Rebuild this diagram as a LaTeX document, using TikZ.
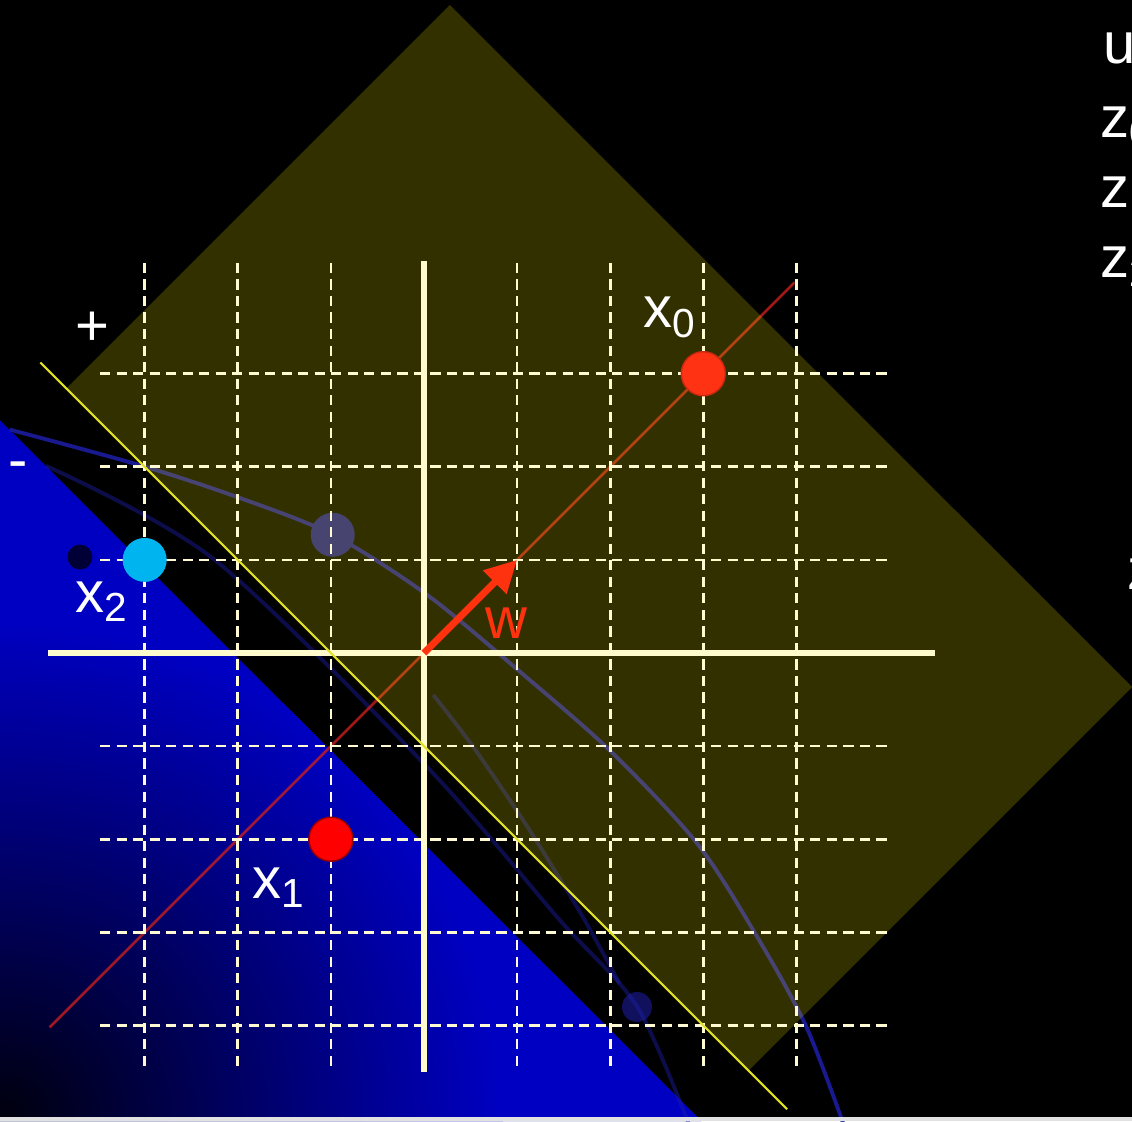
\documentclass[tikz,border=0pt]{standalone}
\usepackage{fontspec}
\setmainfont{Liberation Sans}
\usetikzlibrary{arrows.meta}

\definecolor{gridcol}{RGB}{255,250,210}
\definecolor{axiscol}{RGB}{255,251,205}
\definecolor{bdcol}{RGB}{225,225,40}
\definecolor{wcol}{RGB}{255,50,15}
\definecolor{trailcol}{RGB}{30,30,170}
\definecolor{ghostcol}{RGB}{25,25,140}
\definecolor{halfblue}{RGB}{0,0,195}
\definecolor{deepblue}{RGB}{0,0,12}
\definecolor{shadowcol}{RGB}{0,0,55}
\definecolor{wlinecol}{RGB}{200,30,30}
\definecolor{xzerocol}{RGB}{255,50,20}
\definecolor{xtwocol}{RGB}{0,180,240}
\definecolor{stripcol}{RGB}{225,225,225}

\begin{document}
\begin{tikzpicture}[x=0.931cm, y=0.931cm,
    gridline/.style={gridcol, line width=0.75pt, dash pattern=on 2.9pt off 1.8pt},
    axisline/.style={axiscol, line width=1.7pt},
    trail/.style={trailcol, line width=1.1pt},
    ptdot/.style={circle, inner sep=0pt, minimum size=0.44cm},
    lbl/.style={text=white, inner sep=0pt, anchor=base west,
                font=\fontsize{16.5}{19}\selectfont},
    warrow/.style={-{Triangle[length=9pt, width=9pt]}, wcol, line width=2pt},
]

\useasboundingbox (-4.554,-5.027) rectangle (7.605,7.014);
\fill[black] (-4.554,-5.027) rectangle (7.605,7.014);
\clip (-4.554,-5.027) rectangle (7.605,7.014);

% negative half plane
\coordinate (bl) at (-4.554,-5.027);
\coordinate (bt) at (-4.554,2.50);
\coordinate (br) at (2.98,-5.027);
\fill[halfblue] (bt) -- (br) -- (bl) -- cycle;
\begin{scope}
  \clip (bt) -- (br) -- (bl) -- cycle;
  \shade[inner color=deepblue, outer color=halfblue] (bl) circle (5.4);
\end{scope}

% trails
\draw[trail, opacity=0.85] plot[smooth] coordinates {(-4.45,2.40) (-3.06,2.02)
    (-2.02,1.68) (-0.98,1.27) (0.04,0.62) (1.03,-0.2) (2.0,-1.05) (2.93,-2.04)
    (3.55,-3.0) (4.1,-4.0) (4.52,-5.1)};
\draw[trail, opacity=0.45] plot[smooth] coordinates {(0.1,-0.45) (0.53,-1.01)
    (1.1,-1.85) (1.68,-2.79) (2.1,-3.55)};
\draw[trail, opacity=0.45] plot[smooth] coordinates {(-4.06,2.01) (-2.26,1.01)
    (0.03,-1.22) (1.46,-2.87) (2.29,-3.80) (2.86,-5.1)};
\node[ptdot, fill=ghostcol] (ghost) at (-0.98,1.27) {};
\node[ptdot, fill=shadowcol, minimum size=0.25cm] (shadow) at (-3.695,1.031) {};
\node[ptdot, fill=trailcol, opacity=0.55, minimum size=0.3cm] (ghostlow) at (2.288,-3.802) {};

% direction of w
\coordinate (rlo) at (-4.02,-4.02);
\coordinate (rhi) at (3.98,3.98);
\draw[wlinecol, opacity=0.8, line width=0.8pt] (rlo) -- (rhi);

% positive half plane
\fill[yellow, fill opacity=0.2] (0.279,6.96) -- (7.605,-0.365) -- (3.48,-4.49)
    -- (-3.845,2.836) -- cycle;

\foreach \u in {-3,-2,-1,1,2,3,4}
    \draw[gridline] (\u,4.19) -- (\u,-4.46);
\foreach \v in {-4,-3,-2,-1,1,2,3}
    \draw[gridline] (-3.48,\v) -- (4.98,\v);

\draw[axisline] (-4.04,0) -- (5.49,0);
\draw[axisline] (0,4.21) -- (0,-4.5);

\coordinate (yl) at (-4.12,3.12);
\coordinate (yu) at (3.9,-4.9);
\draw[bdcol, line width=0.6pt] (yl) -- (yu);

\coordinate (o) at (0,0);
\coordinate (wtip) at (1,1);
\draw[warrow] (o) -- (wtip);

\node[ptdot, fill=xzerocol, draw=xzerocol!80!black, line width=0.4pt] (x0) at (3,3) {};
\node[ptdot, fill=red, draw=red!60!black, line width=0.4pt] (x1) at (-1,-2) {};
\node[ptdot, fill=xtwocol] (x2) at (-3,1) {};

\node[lbl] (x0lbl) at (2.352,3.491) {x\textsubscript{0}};
\node[lbl] (x1lbl) at (-1.847,-2.632) {x\textsubscript{1}};
\node[lbl] (x2lbl) at (-3.749,0.440) {x\textsubscript{2}};
\node[lbl, text=wcol] (wlbl) at (0.655,0.161) {w};
\node[lbl, anchor=center] (plus) at (-3.566,3.480) {+};
\node[lbl, anchor=center] (minus) at (-4.361,1.955) {-};

\node[lbl] (ulbl) at (7.293,6.337) {u};
\node[lbl] (zzero) at (7.26,5.54) {z\textsubscript{0}};
\node[lbl] (zone) at (7.26,4.79) {z\textsubscript{1}};
\node[lbl] (ztwo) at (7.26,4.03) {z\textsubscript{2}};
\node[lbl] (zlow) at (7.55,0.677) {z};

\fill[stripcol] (-4.554,-5.027) rectangle (7.605,-4.984);

\end{tikzpicture}
\end{document}
